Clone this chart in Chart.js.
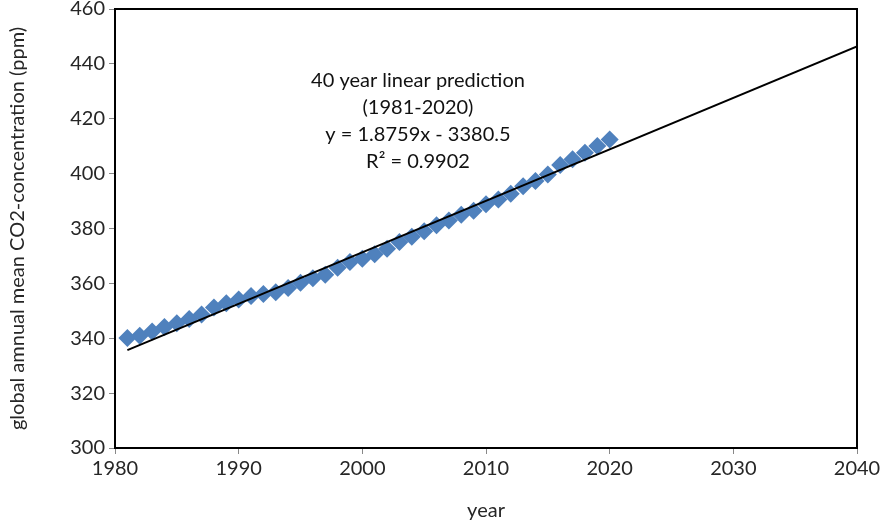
<!DOCTYPE html>
<html>
<head>
<meta charset="utf-8">
<script src="https://cdn.jsdelivr.net/npm/chart.js@4/dist/chart.umd.min.js"></script>
<style>
  html, body { margin: 0; padding: 0; background: #fff; }
  #wrap { width: 886px; height: 525px; }
</style>
</head>
<body>
<div id="wrap"><canvas id="c" width="886" height="525"></canvas></div>
<script>
// Global annual mean CO2 concentration (ppm), 1981-2020
const years = [1981,1982,1983,1984,1985,1986,1987,1988,1989,1990,
               1991,1992,1993,1994,1995,1996,1997,1998,1999,2000,
               2001,2002,2003,2004,2005,2006,2007,2008,2009,2010,
               2011,2012,2013,2014,2015,2016,2017,2018,2019,2020];
const co2 = [340.1,340.9,342.5,344.1,345.5,347.0,348.7,351.2,352.8,354.1,
             355.4,356.1,356.8,358.3,360.2,361.9,363.1,365.7,367.8,369.0,
             370.6,372.6,375.1,377.0,379.0,381.2,382.9,385.0,386.5,388.8,
             390.6,392.7,395.4,397.3,399.7,403.1,405.2,407.6,410.1,412.4];

// Linear trend (1981-2020) extended to 2040
const trendSlope = 1.8759;
const trendIntercept = -3380.5;
const trendR2 = 0.9902;
const trendYears = [1981, 2040];

// Axis ticks
const xTicks = [1980,1990,2000,2010,2020,2030,2040];
const yTicks = [300,320,340,360,380,400,420,440,460];

const points = years.map((yr, i) => ({ x: yr, y: co2[i] }));
const trendPoints = trendYears.map(yr => ({ x: yr, y: trendSlope * yr + trendIntercept }));

const FONT = 'Lato, "Open Sans", sans-serif';
const TXT = '#262626';
const FS = 20;

const annotationLines = [
  '40 year linear prediction',
  '(' + years[0] + '-' + years[years.length - 1] + ')',
  'y = ' + trendSlope.toFixed(4) + 'x - ' + Math.abs(trendIntercept).toFixed(1),
  'R\u00B2 = ' + trendR2.toFixed(4)
];

const frame = {
  id: 'frame',
  afterDatasetsDraw(chart) {
    const a = chart.chartArea, ctx = chart.ctx;
    ctx.save();
    ctx.strokeStyle = '#000';
    ctx.lineWidth = 2;
    ctx.strokeRect(a.left, a.top, a.right - a.left, a.bottom - a.top);
    ctx.restore();
  }
};

const label = {
  id: 'label',
  afterDraw(chart) {
    const ctx = chart.ctx;
    const a = chart.chartArea;
    const cx = chart.scales.x.getPixelForValue(2004.5);
    const top = a.top + 72;
    ctx.save();
    ctx.font = FS + 'px ' + FONT;
    ctx.fillStyle = '#111';
    ctx.textAlign = 'center';
    ctx.textBaseline = 'middle';
    annotationLines.forEach((t, i) => ctx.fillText(t, cx, top + i * 27));
    ctx.restore();
  }
};

new Chart(document.getElementById('c'), {
  type: 'scatter',
  data: {
    datasets: [
      {
        label: 'CO2',
        data: points,
        pointStyle: 'rectRot',
        pointRadius: 9,
        pointHoverRadius: 9,
        backgroundColor: '#4F81BD',
        borderColor: '#4F81BD',
        borderWidth: 0,
        order: 1
      },
      {
        type: 'line',
        label: 'trend',
        data: trendPoints,
        borderColor: '#000',
        borderWidth: 2,
        pointRadius: 0,
        fill: false,
        order: 0
      }
    ]
  },
  plugins: [frame, label],
  options: {
    responsive: false,
    animation: false,
    devicePixelRatio: 1,
    layout: { padding: { left: 0, right: 29, top: 8, bottom: 0 } },
    plugins: { legend: { display: false }, tooltip: { enabled: false } },
    scales: {
      x: {
        type: 'linear',
        min: 1980, max: 2040,
        afterBuildTicks(s) { s.ticks = xTicks.map(v => ({ value: v })); },
        afterFit(s) { s.height = 77; s.paddingRight = 0; },
        grid: { display: true, drawOnChartArea: false, drawTicks: true, tickLength: 6, color: '#888' },
        border: { display: true, color: '#000', width: 2 },
        ticks: { color: TXT, font: { family: FONT, size: FS }, padding: 3, maxRotation: 0,
                 callback: v => String(v) },
        title: { display: true, text: 'year', color: TXT, font: { family: FONT, size: FS }, padding: { top: 4, bottom: 2 } }
      },
      y: {
        min: 300, max: 460,
        afterBuildTicks(s) { s.ticks = yTicks.map(v => ({ value: v })); },
        afterFit(s) { s.width = 115; s.paddingTop = 0; s.paddingBottom = 0; },
        grid: { display: true, drawOnChartArea: false, drawTicks: true, tickLength: 6, color: '#888' },
        border: { display: true, color: '#000', width: 2 },
        ticks: { color: TXT, font: { family: FONT, size: FS }, padding: 4,
                 callback: v => String(v) },
        title: { display: true, text: 'global amnual mean CO2-concentration (ppm)', color: TXT, font: { family: FONT, size: FS }, padding: { top: 6, bottom: 4 } }
      }
    }
  }
});
</script>
</body>
</html>
